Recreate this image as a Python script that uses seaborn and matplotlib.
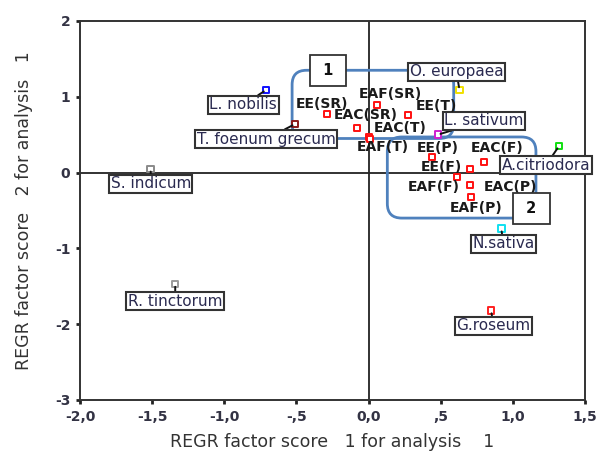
import matplotlib
matplotlib.use("Agg")
import matplotlib.pyplot as plt
import seaborn as sns
import pandas as pd
from matplotlib.patches import FancyBboxPatch

# ---- data ----
species = ["L. nobilis", "T. foenum grecum", "O. europaea", "L. sativum", "A.citriodora",
           "S. indicum", "N.sativa", "R. tinctorum", "G.roseum"]
species_x = [-0.71, -0.51, 0.63, 0.48, 1.32, -1.51, 0.92, -1.34, 0.85]
species_y = [1.09, 0.64, 1.09, 0.50, 0.35, 0.05, -0.74, -1.47, -1.82]
species_colors = ["#1010ff", "#8b1a1a", "#f0e000", "#d020d0", "#10e010",
                  "#8a8a8a", "#10e0f0", "#9a9a9a", "#ff2020"]

samples = ["EE(SR)", "EAC(SR)", "EAF(SR)", "EE(T)", "EAC(T)", "EAF(T)",
           "EE(P)", "EAC(F)", "EE(F)", "EAF(F)", "EAC(P)", "EAF(P)"]
samples_x = [-0.29, -0.08, 0.06, 0.27, 0.00, 0.01, 0.44, 0.80, 0.70, 0.61, 0.70, 0.71]
samples_y = [0.77, 0.59, 0.89, 0.76, 0.47, 0.44, 0.21, 0.14, 0.05, -0.06, -0.16, -0.32]

x_ticks = [-2.0, -1.5, -1.0, -0.5, 0.0, 0.5, 1.0, 1.5]
x_tick_labels = ["-2,0", "-1,5", "-1,0", "-,5", "0,0", ",5", "1,0", "1,5"]
y_ticks = [2, 1, 0, -1, -2, -3]
y_tick_labels = ["2", "1", "0", "-1", "-2", "-3"]

# label offsets in pixels (dx right, dy up) relative to the point
species_off = [(-23, -15), (-29, -15), (-3, 18), (46, 14), (-13, -19),
               (0, -15), (2, -15), (0, -17), (2, -15)]
samples_off = [(-5, 10), (9, 13), (13, 11), (29, 9), (32, 9), (13, -8),
               (6, 9), (13, 14), (-28, 2), (-23, -10), (41, -2), (5, -11)]

df_sp = pd.DataFrame({"name": species, "x": species_x, "y": species_y})
df_sa = pd.DataFrame({"name": samples, "x": samples_x, "y": samples_y})

sns.set_style("white")
fig = plt.figure(figsize=(5.96, 4.53), dpi=100)
ax = fig.add_axes([80 / 596, 1 - 400 / 453, 505 / 596, 379 / 453])

sns.scatterplot(data=df_sp, x="x", y="y", hue="name",
                palette=dict(zip(species, species_colors)), marker="s", s=22,
                facecolor="white", linewidth=1.4, legend=False, ax=ax, zorder=5)
coll = ax.collections[-1]
coll.set_edgecolors(species_colors)
coll.set_facecolors("white")

sns.scatterplot(data=df_sa, x="x", y="y", marker="s", s=22, color="white",
                edgecolor="#ff1010", linewidth=1.4, legend=False, ax=ax, zorder=5)

ax.axhline(0, color="#222222", lw=1.3, zorder=1)
ax.axvline(0, color="#222222", lw=1.3, zorder=1)

ax.set_xlim(-2.0, 1.5)
ax.set_ylim(-3, 2)
ax.set_xticks(x_ticks)
ax.set_xticklabels(x_tick_labels)
ax.set_yticks(y_ticks)
ax.set_yticklabels(y_tick_labels)
ax.tick_params(axis="both", which="major", direction="out", length=3, width=2,
               colors="#222222", labelsize=10, labelcolor="#333344", pad=4,
               bottom=True, left=True)
for lab in ax.get_xticklabels() + ax.get_yticklabels():
    lab.set_fontweight("bold")
for sp in ax.spines.values():
    sp.set_color("#333333")
    sp.set_linewidth(1.4)

ax.set_xlabel("REGR factor score   1 for analysis    1", fontsize=12.5,
              color="#333333", labelpad=7)
ax.set_ylabel("REGR factor score   2 for analysis   1", fontsize=12.5,
              color="#333333", labelpad=16)

# cluster boxes (rounded)
asp = (5 / 379) / (3.5 / 505)
for (x0, x1, y0, y1) in [(-0.53, 0.59, 0.45, 1.35), (0.13, 1.16, -0.60, 0.47)]:
    p = FancyBboxPatch((x0, y0), x1 - x0, y1 - y0,
                       boxstyle="round,pad=0,rounding_size=0.1",
                       mutation_aspect=asp, fill=False, edgecolor="#4f81bd",
                       lw=2.0, zorder=3)
    ax.add_patch(p)

# species labels
for n, x, y, (dx, dy) in zip(species, species_x, species_y, species_off):
    ax.annotate(n, (x, y), xytext=(dx, dy), textcoords="offset pixels",
                ha="center", va="center", fontsize=11, color="#2a2a50",
                bbox=dict(boxstyle="square,pad=0.1", fc="white", ec="#333333", lw=1.5),
                arrowprops=dict(arrowstyle="-", color="#111111", lw=1.4,
                                shrinkA=0, shrinkB=2),
                zorder=6, annotation_clip=False)

# sample labels
for n, x, y, (dx, dy) in zip(samples, samples_x, samples_y, samples_off):
    ax.annotate(n, (x, y), xytext=(dx, dy), textcoords="offset pixels",
                ha="center", va="center", fontsize=10, fontweight="bold",
                color="#1a1a1a", zorder=7)

# cluster number boxes
for t, (x, y) in zip(["1", "2"], [(-0.28, 1.35), (1.13, -0.47)]):
    ax.text(x, y, " " + t + " ", ha="center", va="center", fontsize=10.5,
            fontweight="bold", color="#111111", zorder=8,
            bbox=dict(boxstyle="square,pad=0.55", fc="white", ec="#333333", lw=1.3))

fig.savefig("out.png", dpi=100)
